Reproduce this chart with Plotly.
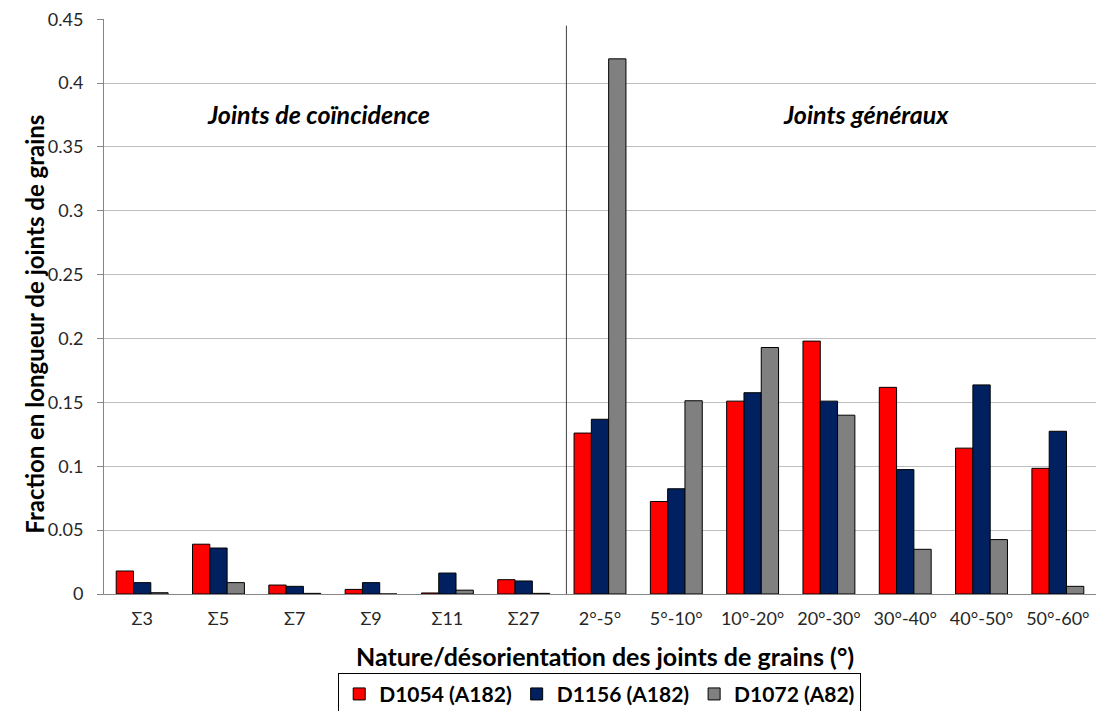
import plotly.graph_objects as go

categories = ["Σ3", "Σ5", "Σ7", "Σ9", "Σ11", "Σ27",
              "2°-5°", "5°-10°", "10°-20°", "20°-30°", "30°-40°", "40°-50°", "50°-60°"]

d1054 = [0.018, 0.039, 0.007, 0.0036, 0.0008, 0.0112,
         0.126, 0.0724, 0.151, 0.198, 0.1618, 0.1142, 0.0984]
d1156 = [0.0089, 0.036, 0.006, 0.0089, 0.0164, 0.0102,
         0.1368, 0.0824, 0.1576, 0.151, 0.0974, 0.1637, 0.1274]
d1072 = [0.001, 0.0089, 0.0005, 0.0, 0.003, 0.0005,
         0.419, 0.1513, 0.193, 0.140, 0.035, 0.0426, 0.006]

y_ticks = [0, 0.05, 0.1, 0.15, 0.2, 0.25, 0.3, 0.35, 0.4, 0.45]
y_ticklabels = ["0", "0.05", "0.1", "0.15", "0.2", "0.25", "0.3", "0.35", "0.4", "0.45"]

FONT = "Lato"

fig = go.Figure()
for name, vals, col in [("D1054 (A182)", d1054, "#FF0000"),
                        ("D1156 (A182)", d1156, "#002060"),
                        ("D1072 (A82)", d1072, "#808080")]:
    fig.add_trace(go.Bar(
        x=categories, y=vals, name="<b>" + name + "</b>",
        marker=dict(color=col, line=dict(color="black", width=1)),
    ))

# séparation coïncidence / généraux
fig.add_shape(type="line", xref="x", yref="y", x0=5.56, x1=5.56, y0=0, y1=0.445,
              line=dict(color="#404040", width=1))

fig.add_annotation(x=2.31, y=0.376, xref="x", yref="y", text="<b><i>Joints de coïncidence</i></b>",
                   showarrow=False, xanchor="center", yanchor="middle",
                   font=dict(size=25, color="black", family=FONT))
fig.add_annotation(x=9.49, y=0.376, xref="x", yref="y", text="<b><i>Joints généraux</i></b>",
                   showarrow=False, xanchor="center", yanchor="middle",
                   font=dict(size=25, color="black", family=FONT))

# titres d'axes
fig.add_annotation(x=0.505, y=-0.108, xref="paper", yref="paper",
                   xanchor="center", yanchor="middle",
                   text="<b>Nature/désorientation des joints de grains (°)</b>",
                   showarrow=False, font=dict(size=25, color="black", family=FONT))
fig.add_annotation(x=-0.0696, y=0.47, xref="paper", yref="paper", textangle=-90,
                   xanchor="center", yanchor="middle",
                   text="<b>Fraction en longueur de joints de grains</b>",
                   showarrow=False, font=dict(size=24, color="black", family=FONT))

fig.update_layout(
    width=1106, height=711,
    paper_bgcolor="white", plot_bgcolor="white",
    margin=dict(l=96, r=18, t=11, b=125, autoexpand=False),
    barmode="group", bargap=0.32, bargroupgap=0,
    font=dict(family=FONT, color="black"),
    xaxis=dict(
        type="category", showline=True, linecolor="#868686", linewidth=1,
        ticks="", tickfont=dict(size=18, color="#262626"), ticklabelstandoff=8,
    ),
    yaxis=dict(
        range=[0, 0.4502], tickmode="array", tickvals=y_ticks, ticktext=y_ticklabels,
        showline=True, linecolor="#868686", linewidth=1,
        ticks="outside", ticklen=6, tickcolor="#868686",
        showgrid=True, gridcolor="#BFBFBF", gridwidth=1,
        zeroline=False, tickfont=dict(size=18, color="#262626"), ticklabelstandoff=10,
        ticklabeloverflow="allow",
    ),
    legend=dict(
        orientation="h", xref="container", x=0.535, xanchor="center",
        yref="container", y=0.065, yanchor="top",
        bordercolor="black", borderwidth=1, bgcolor="white",
        font=dict(size=21, family=FONT),
        traceorder="normal",
    ),
)

fig.write_html("out.html")
